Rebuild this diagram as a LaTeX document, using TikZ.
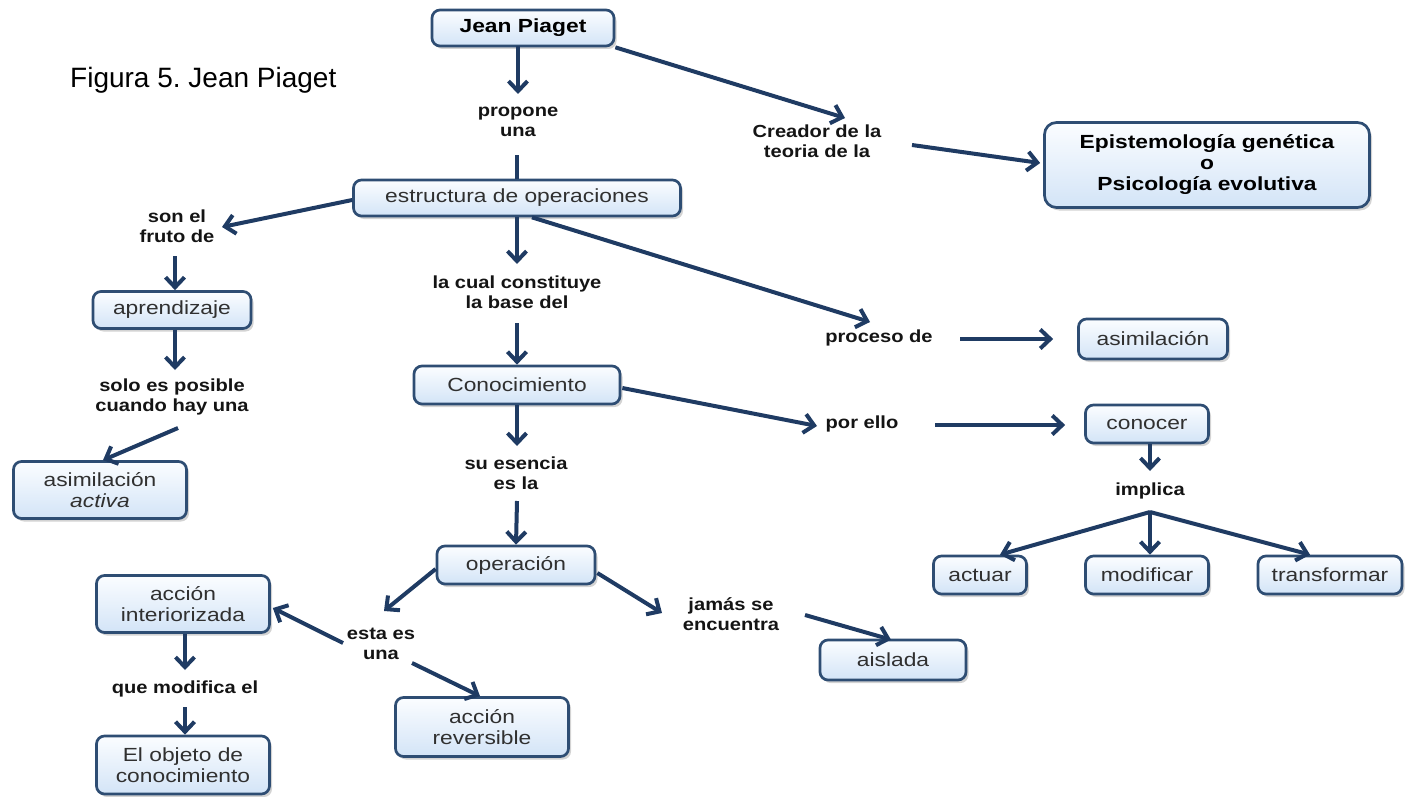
\documentclass[tikz,border=0pt]{standalone}
\usepackage{fontspec}
\setmainfont{Liberation Sans}
\newfontfamily\bx[FakeStretch=1.2]{Liberation Sans}
\newfontfamily\lb[FakeStretch=1.15]{Liberation Sans}
\usetikzlibrary{arrows.meta,shadows,calc}
\definecolor{boxline}{HTML}{2E4D73}
\definecolor{boxtop}{HTML}{FBFDFF}
\definecolor{boxbot}{HTML}{D3E4F7}
\definecolor{boxtext}{HTML}{303030}
\definecolor{lbltext}{HTML}{141414}
\definecolor{arrowc}{HTML}{1F3B63}
\frenchspacing
\begin{document}
\begin{tikzpicture}[x=1pt,y=-1pt,
  concept/.style={draw=boxline, line width=2.7pt, rounded corners=8pt,
    top color=boxtop, bottom color=boxbot,
    drop shadow={shadow xshift=2.5pt, shadow yshift=-3pt, opacity=0.35},
    text=boxtext, align=center, inner sep=0pt,
    font=\bx\fontsize{19}{21}\selectfont},
  boldconcept/.style={concept, font=\bx\bfseries\fontsize{19}{21}\selectfont, text=black},
  lbl/.style={text=lbltext, align=center, inner sep=0pt,
    font=\lb\bfseries\fontsize{17.5}{20.5}\selectfont},
  arr/.style={draw=arrowc, line width=4pt, -{Straight Barb[length=10pt,width=19pt]}},
  ln/.style={draw=arrowc, line width=4pt}]
\useasboundingbox (0,0) rectangle (1407,797);

% caption
\node[anchor=west, inner sep=0pt, font=\fontsize{28}{32}\selectfont] (title) at (70,80) {Figura 5. Jean Piaget};

% concepts
\node[boldconcept, minimum width=182pt, minimum height=36pt] (jp) at (523,28) {Jean Piaget};
\node[concept, minimum width=327pt, minimum height=36pt] (est) at (517,198) {estructura de operaciones};
\node[boldconcept, rounded corners=12pt, minimum width=325pt, minimum height=85pt] (epi) at (1207,165)
  {Epistemología genética\\o\\Psicología evolutiva};
\node[concept, minimum width=158pt, minimum height=37pt] (apr) at (172,310) {aprendizaje};
\node[concept, minimum width=206pt, minimum height=38pt] (con) at (517,385) {Conocimiento};
\node[concept, minimum width=149pt, minimum height=40pt] (asim) at (1153,339) {asimilación};
\node[concept, minimum width=123pt, minimum height=38pt] (conocer) at (1147,424) {conocer};
\node[concept, minimum width=173pt, minimum height=57pt] (activa) at (100,490) {asimilación\\\itshape activa};
\node[concept, minimum width=158pt, minimum height=38pt] (op) at (516,565) {operación};
\node[concept, minimum width=93pt, minimum height=38pt] (actuar) at (980,575) {actuar};
\node[concept, minimum width=123pt, minimum height=38pt] (mod) at (1147,575) {modificar};
\node[concept, minimum width=144pt, minimum height=38pt] (trans) at (1330,575) {transformar};
\node[concept, minimum width=173pt, minimum height=57pt] (inter) at (183,604) {acción\\interiorizada};
\node[concept, minimum width=146pt, minimum height=40pt] (ais) at (893,660) {aislada};
\node[concept, minimum width=173pt, minimum height=59pt] (rev) at (482,727) {acción\\reversible};
\node[concept, minimum width=173pt, minimum height=58pt] (obj) at (183,765) {El objeto de\\conocimiento};

% linking phrases
\node[lbl] (propone) at (518,122) {propone\\una};
\node[lbl] (creador) at (817,141) {Creador de la\\teoria de la};
\node[lbl] (sonel) at (177,226) {son el\\fruto de};
\node[lbl] (lacual) at (517,292) {la cual constituye\\la base del};
\node[lbl] (proceso) at (879,338) {proceso de};
\node[lbl] (solo) at (172,397) {solo es posible\\cuando hay una};
\node[lbl] (porello) at (862,424) {por ello};
\node[lbl] (esencia) at (516,473) {su esencia\\es la};
\node[lbl] (implica) at (1150,491) {implica};
\node[lbl] (jamas) at (731,614) {jamás se\\encuentra};
\node[lbl] (esta) at (381,644) {esta es\\una};
\node[lbl] (quemod) at (185,689) {que modifica el};

% connectors
\draw[arr] ($(jp)+(-5,18)$) -- ($(propone)+(0,-28)$);
\draw[ln] ($(propone)+(-1,33)$) -- (est.north);
\draw[arr] (jp.south east) -- ($(creador)+(28,-23)$);
\draw[arr] ($(creador)+(95,4)$) -- ($(epi.west)+(-3,-2)$);
\draw[arr] ($(est.west)+(0,2)$) -- ($(sonel)+(45,1)$);
\draw[arr] ($(sonel)+(-2,30)$) -- ($(apr.north)+(3,0)$);
\draw[arr] (est.south) -- ($(lacual)+(0,-28)$);
\draw[arr] ($(est.south)+(15,0)$) -- ($(proceso)+(-9,-16)$);
\draw[arr] ($(proceso)+(81,1)$) -- ($(asim.west)+(-24,0)$);
\draw[arr] ($(lacual)+(0,31)$) -- (con.north);
\draw[arr] ($(apr.south)+(3,0)$) -- ($(solo)+(3,-27)$);
\draw[arr] ($(solo)+(6,31)$) -- ($(activa.north)+(3,0)$);
\draw[arr] ($(con.east)+(1,3)$) -- ($(porello)+(-45,2)$);
\draw[arr] ($(porello)+(73,1)$) -- ($(conocer.west)+(-19,1)$);
\draw[arr] (con.south) -- ($(esencia)+(1,-27)$);
\draw[arr] ($(esencia)+(1,28)$) -- (op.north);
\draw[arr] ($(conocer.south)+(3,0)$) -- ($(implica)+(0,-20)$);
\draw[arr] ($(implica)+(0,21)$) -- ($(actuar.north)+(20,0)$);
\draw[arr] ($(implica)+(0,21)$) -- ($(mod.north)+(3,0)$);
\draw[arr] ($(implica)+(0,21)$) -- ($(trans.north)+(-20,0)$);
\draw[arr] ($(op.west)+(0,4)$) -- ($(esta)+(3,-33)$);
\draw[arr] ($(op.east)+(1,8)$) -- ($(jamas)+(-69,-1)$);
\draw[arr] ($(jamas)+(74,1)$) -- ($(ais.north)+(-2,1)$);
\draw[arr] ($(esta)+(-38,-1)$) -- ($(inter.east)+(2,4)$);
\draw[arr] ($(esta)+(31,19)$) -- ($(rev.north)+(-2,0)$);
\draw[arr] ($(inter.south)+(2,0)$) -- ($(quemod)+(0,-19)$);
\draw[arr] ($(quemod)+(0,18)$) -- ($(obj.north)+(2,0)$);
\end{tikzpicture}
\end{document}
